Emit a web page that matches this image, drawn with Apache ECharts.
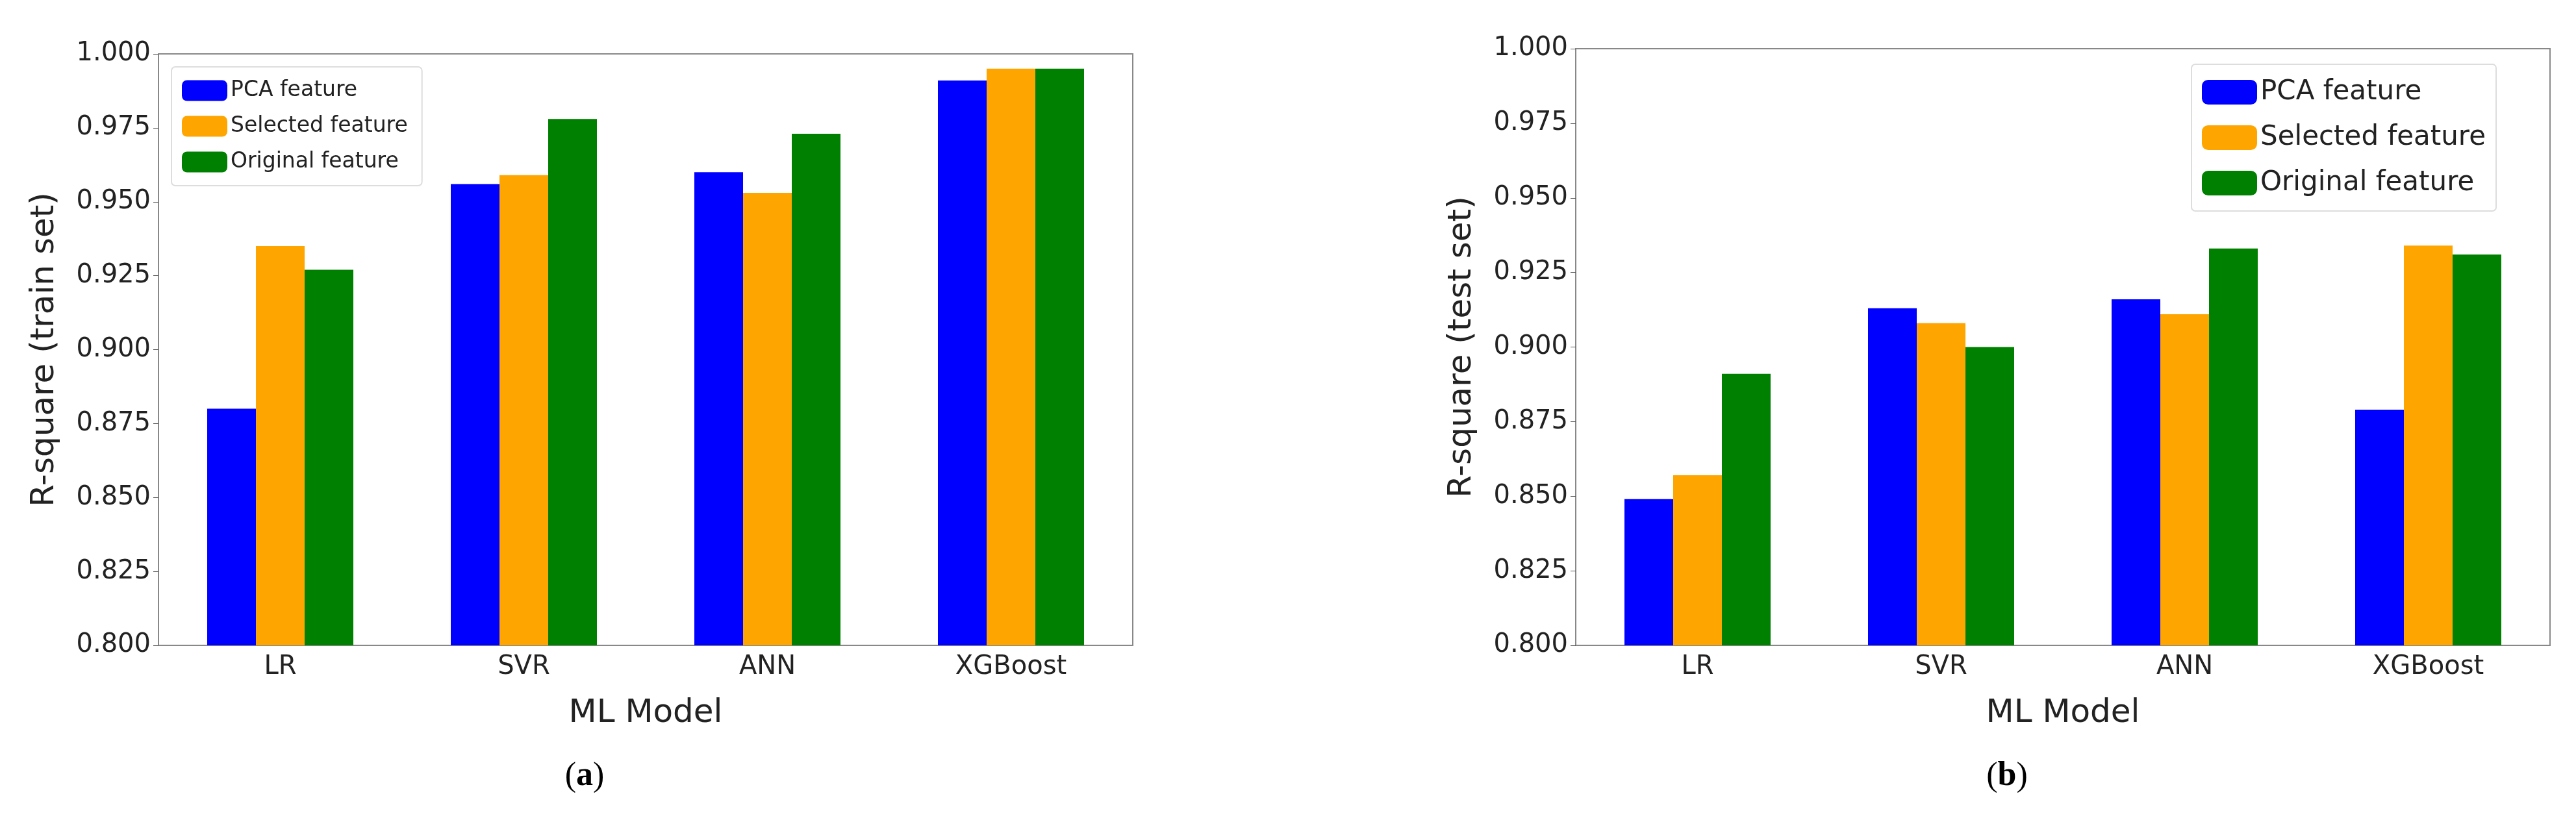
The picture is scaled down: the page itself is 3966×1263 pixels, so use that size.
<!DOCTYPE html>
<html>
<head>
  <meta charset="utf-8">
  <script src="https://cdn.jsdelivr.net/npm/echarts@6/dist/echarts.min.js"></script>
  <style>
    html, body { margin: 0; padding: 0; background: #fff; }
    #chart { width: 3966px; height: 1263px; }
  </style>
</head>
<body>
<div id="chart"></div>
<script>
  var categories = ['LR', 'SVR', 'ANN', 'XGBoost'];
  var seriesNames = ['PCA feature', 'Selected feature', 'Original feature'];
  var colors = ['#0000ff', '#ffa500', '#008000'];
  // (a) train set
  var trainPCA = [0.880, 0.956, 0.960, 0.991];
  var trainSelected = [0.935, 0.959, 0.953, 0.995];
  var trainOriginal = [0.927, 0.978, 0.973, 0.995];
  // (b) test set
  var testPCA = [0.849, 0.913, 0.916, 0.879];
  var testSelected = [0.857, 0.908, 0.911, 0.934];
  var testOriginal = [0.891, 0.900, 0.933, 0.931];

  var font = 'DejaVu Sans';
  var chart = echarts.init(document.getElementById('chart'));

  function axes(idx, yName) {
    return {
      x: {
        type: 'category', gridIndex: idx, data: categories,
        name: 'ML Model', nameLocation: 'middle', nameGap: 80,
        nameTextStyle: { fontFamily: font, fontSize: 50, color: '#222' },
        axisLine: { lineStyle: { color: '#888', width: 2 } },
        axisTick: { alignWithLabel: true, length: 8, lineStyle: { color: '#555' } },
        axisLabel: { fontFamily: font, fontSize: 40, color: '#222', margin: 14 }
      },
      y: {
        type: 'value', gridIndex: idx, min: 0.8, max: 1.0, interval: 0.025,
        name: yName, nameLocation: 'middle', nameGap: 150,
        nameTextStyle: { fontFamily: font, fontSize: 50, color: '#222' },
        axisLine: { show: true, lineStyle: { color: '#888', width: 2 } },
        axisTick: { show: true, length: 8, lineStyle: { color: '#555' } },
        splitLine: { show: false },
        axisLabel: { fontFamily: font, fontSize: 40, color: '#222', margin: 12,
          formatter: function (v) { return v.toFixed(3); } }
      }
    };
  }
  var a0 = axes(0, 'R-square (train set)');
  var a1 = axes(1, 'R-square (test set)');

  function bars(idx, data) {
    return data.map(function (d, i) {
      return {
        name: seriesNames[i], type: 'bar', xAxisIndex: idx, yAxisIndex: idx,
        data: d, barWidth: '20%', barGap: '0%', itemStyle: { color: colors[i] }
      };
    });
  }

  var option = {
    animation: false,
    title: [
      { text: '({a|a})', left: 895, top: 1165, textAlign: 'center',
        textStyle: { fontFamily: 'Liberation Serif', fontSize: 52, fontWeight: 'normal', color: '#000',
          rich: { a: { fontFamily: 'Liberation Serif', fontSize: 52, fontWeight: 'bold' } } } },
      { text: '({b|b})', left: 3085, top: 1165, textAlign: 'center',
        textStyle: { fontFamily: 'Liberation Serif', fontSize: 52, fontWeight: 'normal', color: '#000',
          rich: { b: { fontFamily: 'Liberation Serif', fontSize: 52, fontWeight: 'bold' } } } }
    ],
    legend: [
      { data: seriesNames, orient: 'vertical', left: 264, top: 103, padding: [20, 22, 20, 16],
        itemWidth: 70, itemHeight: 32, itemGap: 22, borderColor: '#ddd', borderWidth: 2, borderRadius: 6,
        textStyle: { fontFamily: font, fontSize: 33, color: '#222' } },
      { data: seriesNames, orient: 'vertical', left: 3374, top: 99, padding: [22, 16, 22, 16],
        itemWidth: 85, itemHeight: 38, itemGap: 28, borderColor: '#ddd', borderWidth: 2, borderRadius: 6,
        textStyle: { fontFamily: font, fontSize: 42, color: '#222' } }
    ],
    grid: [
      { left: 244, width: 1500, top: 83, height: 911, show: true, borderColor: '#888', borderWidth: 2 },
      { left: 2426, width: 1500, top: 75, height: 919, show: true, borderColor: '#888', borderWidth: 2 }
    ],
    xAxis: [a0.x, a1.x],
    yAxis: [a0.y, a1.y],
    series: bars(0, [trainPCA, trainSelected, trainOriginal])
      .concat(bars(1, [testPCA, testSelected, testOriginal]))
  };
  option.legend[1].data = seriesNames;
  chart.setOption(option);
</script>
</body>
</html>
